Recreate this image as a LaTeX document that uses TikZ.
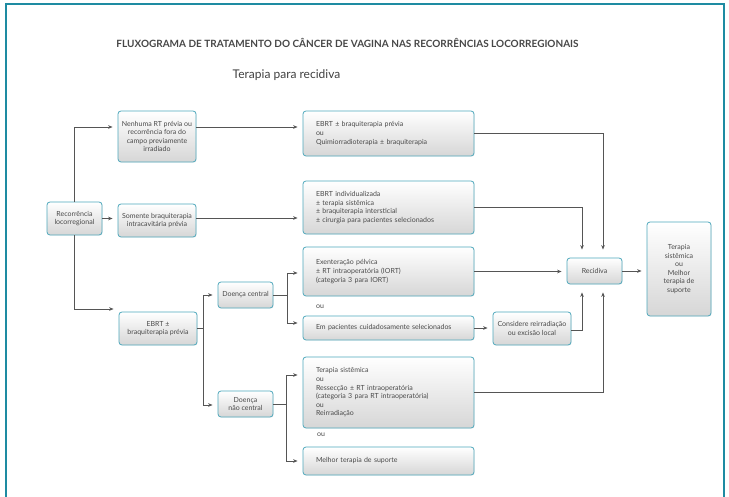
\documentclass[tikz,border=0pt]{standalone}
\usepackage{fontspec}
\setmainfont{Lato}
\usetikzlibrary{arrows.meta,shadows}
\definecolor{frameteal}{HTML}{1E8BA2}
\definecolor{boxteal}{HTML}{4FA8BC}
\definecolor{inkgray}{HTML}{4A4A4A}
\definecolor{linegray}{HTML}{555555}
\tikzset{
  box/.style={rectangle, rounded corners=3pt, draw=boxteal, line width=0.8pt,
    top color=white, bottom color=black!16, text=inkgray,
    drop shadow={opacity=0.12, shadow xshift=0.7pt, shadow yshift=-0.7pt},
    inner sep=0pt, font=\fontsize{7}{8.6}\selectfont},
  cbox/.style={box, align=center},
  lbox/.style={box, align=left, text width=145pt, inner xsep=13pt,
    minimum width=171pt},
  link/.style={draw=linegray, line width=0.8pt},
  arr/.style={link, -{Stealth[length=4.5pt,width=3.6pt]}, shorten >=5pt},
  arrv/.style={arr, shorten >=8pt},
  oulabel/.style={text=inkgray, font=\fontsize{7}{8}\selectfont, inner sep=0pt},
}
\begin{document}
\begin{tikzpicture}[x=1pt, y=-1pt]
\useasboundingbox (0,0) rectangle (729,497);
\fill[white] (0,0) rectangle (729,497);
% frame
\draw[frameteal, line width=2pt] (6,497) -- (6,4) -- (724,4) -- (724,497);

% headings
\node[text=black!72, font=\bfseries\fontsize{10}{12}\selectfont] (title) at (347.5,43)
  {FLUXOGRAMA DE TRATAMENTO DO CÂNCER DE VAGINA NAS RECORRÊNCIAS LOCORREGIONAIS};
\node[text=black!75, font=\fontsize{12}{14}\selectfont] (sub) at (286.5,75) {Terapia para recidiva};

% first column
\node[cbox, minimum width=55pt, minimum height=33pt] (rec) at (74.5,218.5) {Recorrência\\locorregional};
% second column
\node[cbox, minimum width=78pt, minimum height=51pt] (nen) at (157,136.5)
  {Nenhuma RT prévia ou\\recorrência fora do\\campo previamente\\irradiado};
\node[cbox, minimum width=78pt, minimum height=33pt] (som) at (157,220.5)
  {Somente braquiterapia\\intracavitária prévia};
\node[cbox, minimum width=78pt, minimum height=33pt] (ebrtb) at (158,328.5)
  {EBRT ±\\braquiterapia prévia};
% third column
\node[cbox, minimum width=55pt, minimum height=26pt] (dc) at (245.5,295) {Doença central};
\node[cbox, minimum width=55pt, minimum height=26pt] (dnc) at (245.5,404) {Doença\\não central};
% treatment column
\node[lbox, minimum height=45pt] (e1) at (388.5,133.5)
  {EBRT ± braquiterapia prévia\\ou\\Quimiorradioterapia ± braquiterapia};
\node[lbox, minimum height=53pt] (e2) at (388.5,207.5)
  {EBRT individualizada\\± terapia sistêmica\\± braquiterapia intersticial\\± cirurgia para pacientes selecionados};
\node[lbox, minimum height=49pt] (exe) at (388.5,271.5)
  {Exenteração pélvica\\± RT intraoperatória (IORT)\\(categoria 3 para IORT)};
\node[lbox, minimum height=24pt] (emp) at (388.5,328)
  {Em pacientes cuidadosamente selecionados};
\node[lbox, minimum height=71pt] (ts) at (388.5,392.5)
  {Terapia sistêmica\\ou\\Ressecção ± RT intraoperatória\\(categoria 3 para RT intraoperatória)\\ou\\Reirradiação};
\node[lbox, minimum height=28pt] (mts) at (388.5,461) {Melhor terapia de suporte};
\node[oulabel] (ou1) at (320,307) {ou};
\node[oulabel] (ou2) at (321,435) {ou};
% right part
\node[cbox, minimum width=78pt, minimum height=33pt] (cons) at (532,328.5)
  {Considere reirradiação\\ou excisão local};
\node[cbox, minimum width=55pt, minimum height=26pt] (recid) at (594.5,271) {Recidiva};
\node[cbox, minimum width=64pt, minimum height=94pt] (ter) at (679,269)
  {Terapia\\sistêmica\\ou\\Melhor\\terapia de\\suporte};

% routing levels and junction columns
\coordinate (r1) at (0,127);
\coordinate (r2) at (0,218);
\coordinate (r3) at (0,309);
\coordinate (r4) at (0,273);
\coordinate (r5) at (0,323);
\coordinate (r6) at (0,375);
\coordinate (j1) at (203,0);
\coordinate (j2) at (287,0);
\coordinate (j3) at (286,0);
\coordinate (k1) at (582,0);
\coordinate (k2) at (603,0);

% connectors
\draw[arr] (rec.north) |- (nen.west |- r1);
\draw[arr] (rec.east) -- (rec.east -| som.west);
\draw[arr] (rec.south) |- (ebrtb.west |- r3);
\draw[arr] (nen.east |- r1) -- (e1.west |- r1);
\draw[arr] (som.east |- r2) -- (e2.west |- r2);

\draw[link] (ebrtb.east) -- (ebrtb.east -| j1);
\draw[arr] (ebrtb.east -| j1) |- (dc.west);
\draw[arr] (ebrtb.east -| j1) |- ([yshift=-1pt]dnc.west);

\draw[link] (dc.east) -- (dc.east -| j2);
\draw[arr] (dc.east -| j2) |- (exe.west |- r4);
\draw[arr] (dc.east -| j2) |- (emp.west |- r5);

\draw[link] (dnc.east) -- (dnc.east -| j3);
\draw[arr] (dnc.east -| j3) |- (ts.west |- r6);
\draw[arr] (dnc.east -| j3) |- (mts.west);

\draw[arr] (emp.east) -- (emp.east -| cons.west);
\draw[arr] (exe.east) -- (exe.east -| recid.west);

\draw[arrv] (e1.east) -| (recid.north -| k2);
\draw[arrv] (e2.east) -| (recid.north -| k1);
\draw[arrv] ([yshift=-2pt]cons.east) -| (recid.south -| k1);
\draw[arrv] (ts.east) -| (recid.south -| k2);

\draw[arr] (recid.east) -- (recid.east -| ter.west);
\end{tikzpicture}
\end{document}
